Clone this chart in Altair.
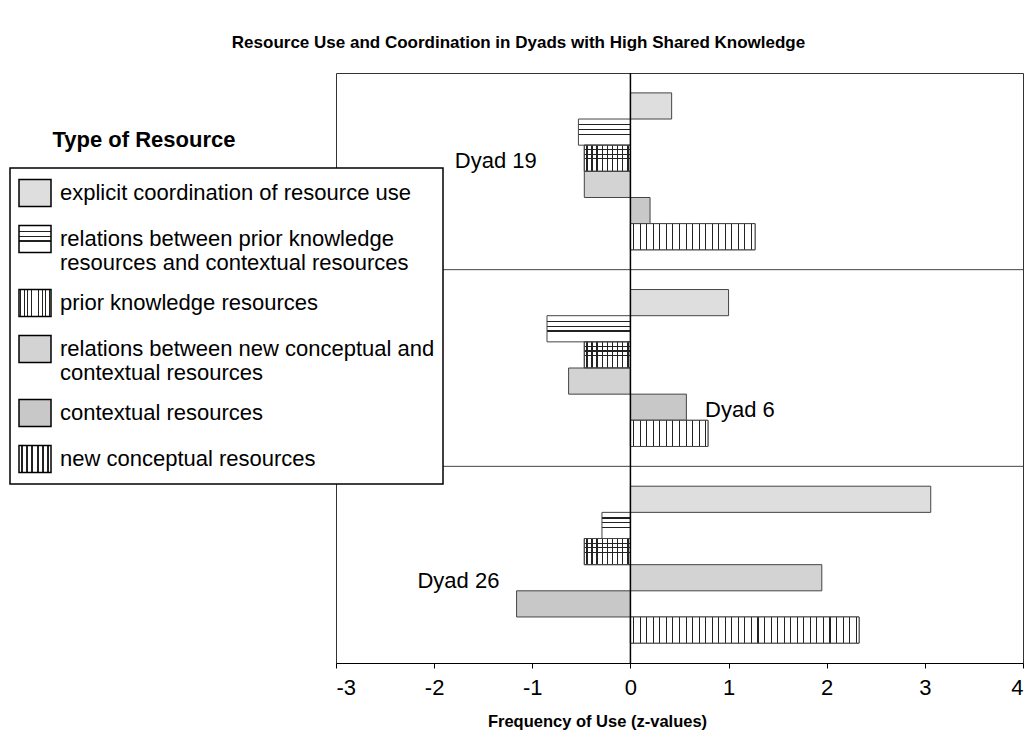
import altair as alt

FONT = "Liberation Sans"

# ---------------- data ----------------
dyads = ["Dyad 19", "Dyad 6", "Dyad 26"]
types = [
    "explicit coordination of resource use",
    "relations between prior knowledge resources and contextual resources",
    "prior knowledge resources",
    "relations between new conceptual and contextual resources",
    "contextual resources",
    "new conceptual resources",
]
explicit_coord = [0.42, 1.00, 3.06]
rel_prior_ctx = [-0.53, -0.85, -0.29]
prior_knowledge = [-0.47, -0.47, -0.47]
rel_new_ctx = [-0.47, -0.63, 1.95]
contextual = [0.20, 0.57, -1.16]
new_conceptual = [1.27, 0.79, 2.33]

# where the dyad names are written (x in z-units, row within the dyad)
label_x = [-1.79, 0.76, -2.17]
label_row = [types[2], types[4], types[3]]

series = [explicit_coord, rel_prior_ctx, prior_knowledge, rel_new_ctx, contextual, new_conceptual]
rows = []
for t, vals in zip(types, series):
    for d, v in zip(dyads, vals):
        rows.append({"dyad": d, "type": t, "value": v})
labels = [{"dyad": d, "row": r, "pos": p} for d, r, p in zip(dyads, label_row, label_x)]
seps = [{"dyad": d} for d in dyads[1:]]


# ---------------- pattern helpers (gradients used as hatching) ----------------
def stripes(vertical, positions, w, fg, bg):
    x2, y2 = (1, 0) if vertical else (0, 1)
    stops = [f"{{'offset':0,'color':'{bg}'}}"]
    for p in positions:
        a, b = max(p - w, 0), min(p + w, 1)
        stops += [f"{{'offset':{a:.4f},'color':'{bg}'}}", f"{{'offset':{a:.4f},'color':'{fg}'}}",
                  f"{{'offset':{b:.4f},'color':'{fg}'}}", f"{{'offset':{b:.4f},'color':'{bg}'}}"]
    stops.append(f"{{'offset':1,'color':'{bg}'}}")
    return ("{'gradient':'linear','x1':0,'y1':0,'x2':%d,'y2':%d,'stops':[%s]}"
            % (x2, y2, ",".join(stops)))


def per_bar_vertical(fg, bg, k_max=40):
    stops = [f"{{'offset':0,'color':'{bg}'}}"]
    for k in range(k_max):
        a = f"clamp(({k}+0.42)/datum.nstripe,0,1)"
        b = f"clamp(({k}+0.58)/datum.nstripe,0,1)"
        stops += [f"{{'offset':{a},'color':'{bg}'}}", f"{{'offset':{a},'color':'{fg}'}}",
                  f"{{'offset':{b},'color':'{fg}'}}", f"{{'offset':{b},'color':'{bg}'}}"]
    stops.append(f"{{'offset':1,'color':'{bg}'}}")
    return "{'gradient':'linear','x1':0,'y1':0,'x2':1,'y2':0,'stops':[%s]}" % ",".join(stops)


fill_range = [
    "#dedede",
    {"expr": stripes(False, [0.22, 0.40, 0.58], 0.025, "#222", "white")},
    {"expr": stripes(True, [(k + 0.5) / 9 for k in range(9)], 0.014, "#222", "white")},
    "#d3d3d3",
    "#c8c8c8",
    {"expr": stripes(True, [(k + 0.5) / 6 for k in range(6)], 0.03, "#222", "white")},
]

label_expr = (
    "datum.label == '" + types[1] + "' ? ['relations between prior knowledge', "
    "'resources and contextual resources'] : datum.label == '" + types[3] + "' ? "
    "['relations between new conceptual and', 'contextual resources'] : datum.label"
)

XTITLE = "Frequency of Use (z-values)"
x_scale = alt.Scale(domain=[-3, 4], nice=False, zero=False)
y_enc = alt.Y("dyad:N", sort=dyads, axis=None,
              scale=alt.Scale(domain=dyads, paddingInner=0, paddingOuter=0))
yoff_enc = alt.YOffset("type:N", sort=types,
                       scale=alt.Scale(domain=types, paddingInner=0, paddingOuter=0.76))
x_axis = alt.Axis(values=list(range(-3, 5)), grid=False, labelExpr="datum.value + ''",
                  title=XTITLE)

base = alt.Chart(alt.Data(values=rows))

bars = base.mark_bar(stroke="#444", strokeWidth=1).encode(
    x=alt.X("value:Q", scale=x_scale, axis=x_axis),
    y=y_enc,
    yOffset=yoff_enc,
    fill=alt.Fill(
        "type:N",
        sort=types,
        scale=alt.Scale(domain=types, range=fill_range),
        legend=alt.Legend(
            title=None, orient="none", legendX=-326, legendY=95,
            fillColor="white", strokeColor="black", padding=8, rowPadding=12,
            symbolType="M-1,-0.85H1V0.85H-1Z", symbolSize=1024,
            symbolStrokeColor="black", symbolStrokeWidth=1.5,
            labelFont=FONT, labelFontSize=22, labelColor="black", labelLimit=700,
            labelOffset=8, labelExpr=label_expr,
        ),
    ),
)

# vertical hatching for new conceptual resources: same stripe spacing on every bar
new_hatch = base.transform_filter(
    alt.datum.type == types[5]
).transform_calculate(
    nstripe="abs(datum.value) * 15"
).transform_calculate(
    grad=per_bar_vertical("#222", "white")
).mark_bar(stroke="#444", strokeWidth=1).encode(
    x=alt.X("value:Q", scale=x_scale, axis=x_axis),
    y=y_enc,
    yOffset=yoff_enc,
    fill=alt.Fill("grad:N", scale=None, legend=None),
)

# horizontal lines completing the grid of prior knowledge resources
T = "rgba(255,255,255,0)"
grid_hatch = base.transform_filter(
    alt.datum.type == types[2]
).mark_bar(
    stroke="#444", strokeWidth=1,
    fill=alt.LinearGradient(
        gradient="linear", x1=0, y1=0, x2=0, y2=1,
        stops=[
            alt.GradientStop(offset=0, color=T),
            alt.GradientStop(offset=0.16, color=T),
            alt.GradientStop(offset=0.16, color="#222"),
            alt.GradientStop(offset=0.2, color="#222"),
            alt.GradientStop(offset=0.2, color=T),
            alt.GradientStop(offset=0.33, color=T),
            alt.GradientStop(offset=0.33, color="#222"),
            alt.GradientStop(offset=0.37, color="#222"),
            alt.GradientStop(offset=0.37, color=T),
            alt.GradientStop(offset=0.5, color=T),
            alt.GradientStop(offset=0.5, color="#222"),
            alt.GradientStop(offset=0.54, color="#222"),
            alt.GradientStop(offset=0.54, color=T),
            alt.GradientStop(offset=1, color=T),
        ],
    ),
).encode(
    x=alt.X("value:Q", scale=x_scale, axis=x_axis),
    y=y_enc,
    yOffset=yoff_enc,
)

zero_line = alt.Chart(alt.Data(values=[{"z": 0}])).mark_rule(
    color="black", strokeWidth=1.5
).encode(x=alt.X("z:Q", scale=x_scale, axis=x_axis))

separators = alt.Chart(alt.Data(values=seps)).mark_rule(
    color="#444", strokeWidth=1
).encode(y=alt.Y("dyad:N", sort=dyads, axis=None, bandPosition=0,
                 scale=alt.Scale(domain=dyads, paddingInner=0, paddingOuter=0)))

dyad_text = alt.Chart(alt.Data(values=labels)).mark_text(
    align="left", baseline="middle", font=FONT, fontSize=22, color="black", dy=3
).encode(
    x=alt.X("pos:Q", scale=x_scale, axis=x_axis),
    y=y_enc,
    yOffset=alt.YOffset("row:N", sort=types,
                        scale=alt.Scale(domain=types, paddingInner=0, paddingOuter=0.76)),
    text="dyad:N",
)

legend_heading = alt.Chart(alt.Data(values=[{"t": "Type of Resource"}])).mark_text(
    align="center", baseline="middle", font=FONT, fontSize=22, fontWeight="bold", color="black"
).encode(x=alt.value(-192), y=alt.value(67), text="t:N")

chart = alt.layer(
    separators, bars, new_hatch, grid_hatch, zero_line, dyad_text, legend_heading
).properties(
    width=687,
    height=590,
    title=alt.TitleParams(
        "Resource Use and Coordination in Dyads with High Shared Knowledge",
        font=FONT, fontSize=17, fontWeight="bold", color="black",
        anchor="middle", dx=-161, offset=20,
    ),
    autosize=alt.AutoSizeParams(type="none"),
    padding={"left": 328, "top": 65, "right": 1, "bottom": 74},
).configure_view(
    stroke="#333", strokeWidth=1
).configure_axis(
    labelFont=FONT, labelFontSize=22, labelColor="black", labelPadding=9,
    tickColor="black", tickSize=5, domainColor="black", domainWidth=1,
    titleFont=FONT, titleFontSize=16.5, titleFontWeight="bold", titleColor="black",
    titleX=261, titleY=58, titleBaseline="middle", titleAlign="center",
).configure_legend(
    strokeWidth=1.5
)

chart.save("out.html", embed_options={"renderer": "svg", "actions": False})
